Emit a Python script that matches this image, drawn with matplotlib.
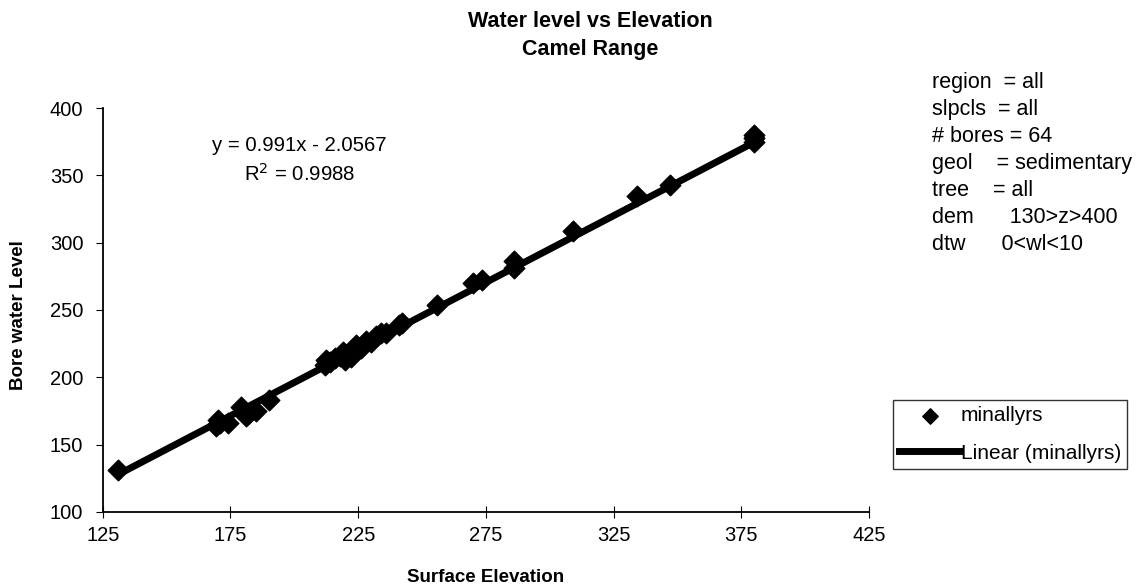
import numpy as np
import matplotlib
matplotlib.use('Agg')
import matplotlib.pyplot as plt

plt.rcParams['font.family'] = ['Liberation Sans', 'DejaVu Sans']

# surface elevation vs bore water level
elev = [131, 169.5, 170, 171, 174, 179, 180, 181, 182, 185, 190,
        212, 212.5, 214, 216, 218, 219, 220, 222, 223, 224, 226, 228, 230,
        232, 234, 236, 241, 242, 256, 270, 273.5, 286, 286, 309, 334, 347,
        380, 380, 380]
wl = [131, 164, 168, 166, 166, 178, 174, 171, 173, 175, 183,
      209, 213, 211, 214, 216, 219, 213, 215, 221, 224, 222, 227, 226,
      231, 233, 233, 239, 240, 254, 270, 272, 281, 286, 309, 335, 343,
      375, 378, 380]

slope = 0.991
intercept = -2.0567
r2 = 0.9988

notes = ['region  = all', 'slpcls  = all', '# bores = 64',
         'geol    = sedimentary', 'tree    = all',
         'dem      130>z>400', 'dtw      0<wl<10']

fig = plt.figure(figsize=(11.42, 5.87), dpi=100)
ax = fig.add_axes([0.090, 0.128, 0.671, 0.688])

xs = np.array([min(elev), max(elev)])
ax.scatter(elev, wl, marker='D', s=110, color='black', zorder=3, label='minallyrs')
ax.plot(xs, slope * xs + intercept, color='black', lw=5, zorder=2,
        label='Linear (minallyrs)')

ax.set_xlim(125, 425)
ax.set_ylim(100, 400)
ax.set_xticks(range(125, 426, 50))
ax.set_yticks(range(100, 401, 50))
for s in ['top', 'right']:
    ax.spines[s].set_visible(False)
for s in ['left', 'bottom']:
    ax.spines[s].set_linewidth(1.3)
ax.tick_params(axis='x', direction='inout', length=9, labelsize=14.5, pad=6)
ax.tick_params(axis='y', direction='out', length=5, labelsize=14.5, pad=9)

ax.text(0.257, 0.93, f'y = {slope}x - {abs(intercept)}\nR$^2$ = {r2}',
        transform=ax.transAxes, ha='center', va='top', fontsize=14.7,
        linespacing=1.4)

fig.text(0.517, 0.982, 'Water level vs Elevation\nCamel Range', ha='center',
         va='top', fontsize=15.5, fontweight='bold', linespacing=1.45)
fig.text(0.016, 0.463, 'Bore water Level', rotation=90, ha='center', va='center',
         fontsize=13.5, fontweight='bold')
fig.text(0.425, 0.017, 'Surface Elevation', ha='center', va='center',
         fontsize=13.5, fontweight='bold')

fig.text(0.816, 0.878, '\n'.join(notes), ha='left', va='top', fontsize=15.5,
         linespacing=1.38)

leg = ax.legend(loc='upper left', bbox_to_anchor=(0.782, 0.319),
                bbox_transform=fig.transFigure, fontsize=15, frameon=True,
                fancybox=False, edgecolor='black', handlelength=2.9,
                borderpad=0.3, labelspacing=0.9, handletextpad=0.05,
                borderaxespad=0, markerscale=0.75)
leg.get_frame().set_linewidth(1.0)

fig.savefig('out.png', dpi=100)
